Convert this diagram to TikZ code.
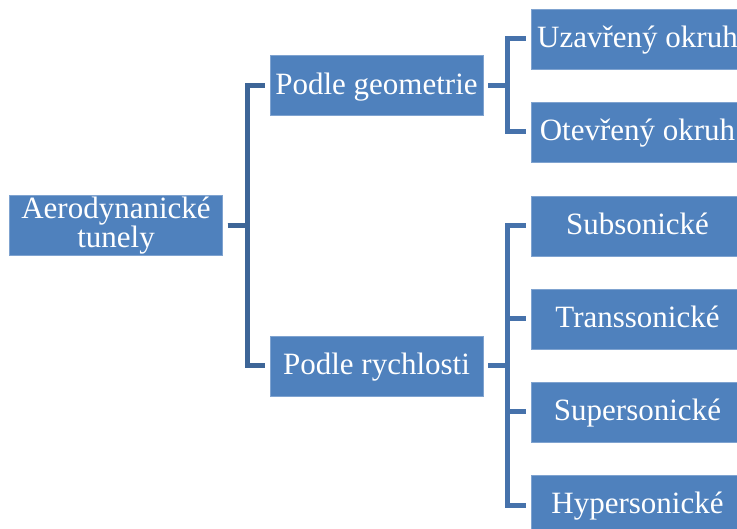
\documentclass[tikz,border=0pt]{standalone}
\usepackage{fontspec}
\setmainfont{Liberation Serif}
\begin{document}
\begin{tikzpicture}[x=1pt, y=-1pt,
    box/.style={draw=boxline, line width=0.8pt,
      fill=boxblue,
      minimum width=213pt,
      minimum height=60pt,
      inner sep=0pt,
      outer sep=5pt,
      align=center,
      text=white,
      font=\fontsize{31}{29}\selectfont},
    oneline/.style={box, text height=25pt, text depth=7pt},
    linkA/.style={draw=linkdark, line width=5pt},
    linkB/.style={draw=linklight, line width=5pt}]
    \definecolor{boxblue}{HTML}{4F81BD}
    \definecolor{boxline}{HTML}{7FA3D0}
    \definecolor{linkdark}{HTML}{3D6597}
    \definecolor{linklight}{HTML}{4672AB}
    \useasboundingbox (0,0) rectangle (737,529);

    % Root
    \node[box] (tunely) at (116,225.5) {Aerodynanické\\tunely};

    % Middle level
    \node[oneline] (geo) at (376.5,85.5) {Podle geometrie};
    \node[oneline] (speed) at (376.5,366) {Podle rychlosti};

    % Leaves by geometry
    \node[oneline] (closed) at (637.5,39) {Uzavřený okruh};
    \node[oneline] (open) at (637.5,132) {Otevřený okruh};

    % Leaves by speed
    \node[oneline] (sub) at (637.5,226) {Subsonické};
    \node[oneline] (trans) at (637.5,319) {Transsonické};
    \node[oneline] (super) at (637.5,412) {Supersonické};
    \node[oneline] (hyper) at (637.5,505) {Hypersonické};

    % Connectors
    \draw[linkA] (tunely.east) -- ++(20,0) |- (geo.west);
    \draw[linkA] (tunely.east) -- ++(20,0) |- (speed.west);
    \foreach \leaf in {closed,open}
      \draw[linkB] (geo.east) -- ++(19,0) |- (\leaf.west);
    \foreach \leaf in {sub,trans,super,hyper}
      \draw[linkB] (speed.east) -- ++(19,0) |- (\leaf.west);
\end{tikzpicture}
\end{document}
